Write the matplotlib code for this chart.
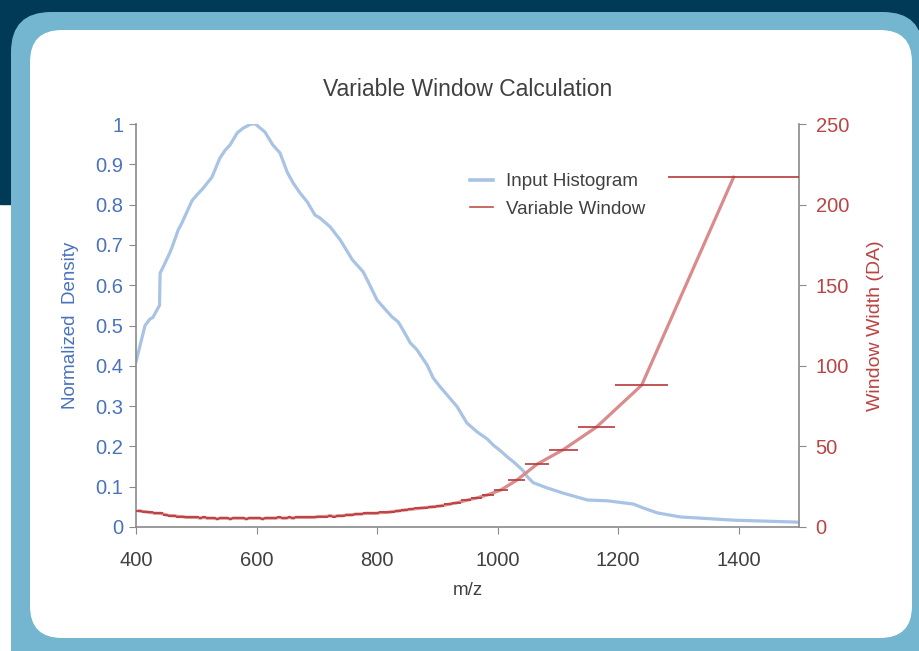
import numpy as np
import matplotlib.pyplot as plt
from matplotlib.patches import FancyBboxPatch, Rectangle
from matplotlib.lines import Line2D
from matplotlib.ticker import FuncFormatter

plt.rcParams['font.family'] = ['Liberation Sans', 'DejaVu Sans']

# input histogram, normalized density vs m/z
hist_mz = [400, 415, 423, 428, 439, 440, 445, 456, 460, 470, 476, 493, 501, 511,
           526, 539, 548, 556, 568, 578, 591, 598, 614, 627, 639, 651, 661, 672,
           684, 697, 705, 722, 739, 759, 777, 788, 800, 810, 825, 835, 843, 855,
           866, 883, 893, 905, 916, 933, 949, 966, 983, 993, 1004, 1016, 1026,
           1032, 1042, 1049, 1059, 1082, 1109, 1149, 1182, 1225, 1242, 1265,
           1303, 1336, 1391, 1500]
hist_density = [0.41, 0.50, 0.516, 0.52, 0.55, 0.63, 0.645, 0.68, 0.695, 0.737,
                0.754, 0.81, 0.824, 0.84, 0.868, 0.915, 0.935, 0.948, 0.978, 0.99,
                1.0, 1.0, 0.98, 0.948, 0.928, 0.88, 0.853, 0.829, 0.807, 0.774,
                0.767, 0.745, 0.712, 0.663, 0.633, 0.60, 0.563, 0.546, 0.521,
                0.509, 0.489, 0.457, 0.44, 0.402, 0.37, 0.347, 0.328, 0.298,
                0.258, 0.236, 0.218, 0.203, 0.19, 0.174, 0.162, 0.154, 0.14,
                0.125, 0.11, 0.097, 0.084, 0.067, 0.065, 0.057, 0.047, 0.035,
                0.025, 0.022, 0.017, 0.012]

# variable windows: widths (Da) of consecutive windows starting at m/z 400
window_start = 400
window_width = [10, 9.5, 9, 8.5, 8.5,
                7.5, 7, 7, 6.5, 6.5, 6, 6, 6,
                6, 5.5, 6, 5.5, 5.5, 5.5, 5, 5.5, 5.5, 5.5, 5, 5.5, 5.5, 5.5, 5.5, 5, 5.5, 5.5,
                5.5, 5.5, 5, 5.5, 5.5, 5.5, 5.5, 6, 5.5, 5.5, 6, 5.5, 6, 6, 6, 6, 6,
                6, 6.5, 6.5, 6.5, 7, 6.5, 7, 7, 7.5, 7.5, 8, 8, 8.5, 8.5,
                8.5, 9, 9, 9.5, 10, 10.5, 11, 11.5, 12, 12.5,
                13, 14, 15, 16.5, 18, 20, 23, 29, 39, 48, 62, 88, 217]

widths = np.array(window_width)
edges = window_start + np.concatenate([[0], np.cumsum(widths)])
starts, ends = edges[:-1], edges[1:]
mids = (starts + ends) / 2

blue = '#4a72bd'
red = '#bb4444'
grey = '#404040'
spine = '#8a8a8a'

fig = plt.figure(figsize=(9.2, 6.51), dpi=100)

# background frame
bg = fig.add_axes([0, 0, 1, 1])
bg.set_xlim(0, 920)
bg.set_ylim(651, 0)
bg.axis('off')
bg.add_patch(Rectangle((0, 0), 920, 204, color='#003a56'))
bg.add_patch(FancyBboxPatch((11, 12), 912, 680, boxstyle='round,pad=0,rounding_size=40',
                            fc='#74b5d0', ec='none'))
bg.add_patch(FancyBboxPatch((30, 30), 882, 608, boxstyle='round,pad=0,rounding_size=32',
                            fc='white', ec='none'))

ax = fig.add_axes([136 / 920, (651 - 527) / 651, 663 / 920, 403 / 651])
ax.patch.set_alpha(0)
ax.plot(hist_mz, hist_density, color='#a8c3e4', lw=2.3, solid_joinstyle='round')
ax.set_xlim(400, 1500)
ax.set_ylim(0, 1)
ax.set_xticks([400, 600, 800, 1000, 1200, 1400])
ax.set_yticks(np.arange(0, 1.01, 0.1))
ax.yaxis.set_major_formatter(FuncFormatter(lambda v, p: f'{v:g}'))

ax2 = ax.twinx()
ax2.plot(mids, widths, color='#da8b8b', lw=2.3, solid_joinstyle='round')
ax2.hlines(widths, starts, ends, color='#b8383b', lw=1.2, zorder=3)
ax2.set_ylim(0, 250)
ax2.set_yticks([0, 50, 100, 150, 200, 250])

for a in (ax, ax2):
    a.spines['top'].set_visible(False)
    for s in a.spines.values():
        s.set_color(spine)
        s.set_linewidth(1.2)
ax.spines['right'].set_visible(False)
ax2.spines['left'].set_visible(False)
ax2.spines['bottom'].set_visible(False)

ax.tick_params(axis='x', colors=spine, labelcolor=grey, labelsize=14.5, length=5, pad=12)
ax.tick_params(axis='y', colors=spine, labelcolor=blue, labelsize=14.5, length=5, pad=4)
ax2.tick_params(axis='y', colors=spine, labelcolor=red, labelsize=14.5, length=5, pad=7)

ax.set_xlabel('m/z', color=grey, fontsize=13.5, labelpad=9)
ax.set_ylabel('Normalized  Density', color=blue, fontsize=13.5, labelpad=12)
ax2.set_ylabel('Window Width (DA)', color=red, fontsize=14, labelpad=13)
ax.set_title('Variable Window Calculation', color=grey, fontsize=16.5, pad=20)

handles = [Line2D([], [], color='#a8c3e4', lw=2.6),
           Line2D([], [], color='#c0504d', lw=1.2)]
leg = ax2.legend(handles, ['Input Histogram', 'Variable Window'], loc='upper left',
                 bbox_to_anchor=(470 / 920, 1 - 173 / 651), bbox_transform=fig.transFigure,
                 frameon=False, fontsize=13.5, handlelength=1.2, handletextpad=0.7,
                 labelspacing=0.56, borderpad=0, borderaxespad=0)
for t in leg.get_texts():
    t.set_color(grey)

fig.savefig('out.png', dpi=100)
